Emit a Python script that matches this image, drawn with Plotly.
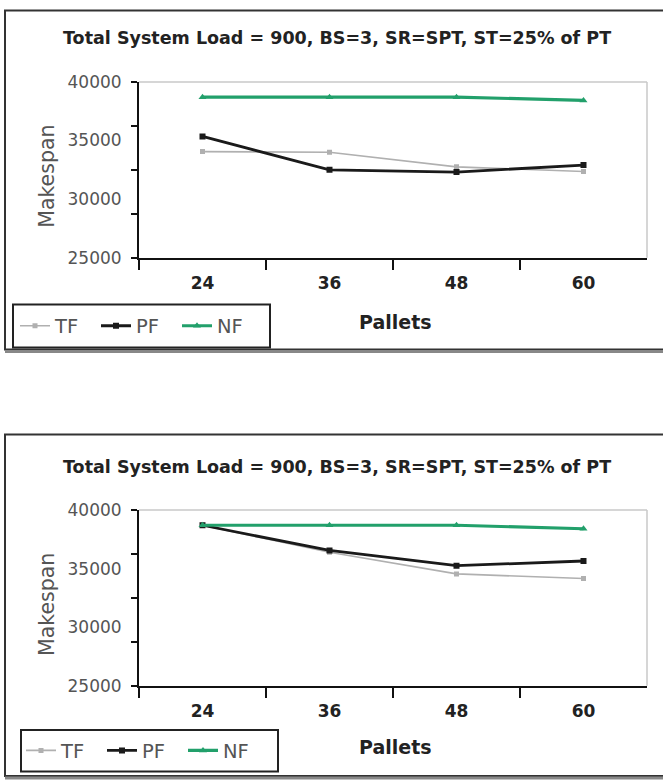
import plotly.graph_objects as go

# figure size; vertical positions below are given in target-picture pixels
# and converted (the captured page is slightly compressed vertically)
WF, HF = 663, 790
SY, OY = 0.976, 10.25

pallets = ["24", "36", "48", "60"]
series_names = ["TF", "PF", "NF"]

# Chart 1 (top)
top_tf = [34050, 34000, 32750, 32350]
top_pf = [35350, 32500, 32300, 32900]
top_nf = [38700, 38700, 38700, 38420]

# Chart 2 (bottom)
bot_tf = [38700, 36400, 34550, 34150]
bot_pf = [38700, 36550, 35250, 35650]
bot_nf = [38700, 38700, 38700, 38400]

title_text = "Total System Load = 900, BS=3, SR=SPT, ST=25% of PT"
y_ticks = [25000, 30000, 35000, 40000]
y_ticktext = ["25000", "30000", "35000", "40000"]
y_minor = [25000, 28750, 32500, 36250, 40000]
y_range = [25000, 40000]

FONT = "DejaVu Sans"
colors = {"TF": "#b0b0b0", "PF": "#1a1a1a", "NF": "#22a06b"}
widths = {"TF": 1.6, "PF": 2.8, "NF": 3.2}
symbols = {"TF": "square", "PF": "square", "NF": "triangle-up"}
msizes = {"TF": 5, "PF": 6, "NF": 7}


def px(xr):
    return xr / WF


def py(yr):
    yf = max(yr / SY - OY, 0.5)
    return (HF - yf) / HF


fig = go.Figure()

charts = [
    dict(data=[top_tf, top_pf, top_nf], xa="x", ya="y", legend="legend",
         frame=(5, 7, 740, 350), ytop=82, ybot=258, title_y=38,
         pallets_y=322, legbox=(13, 305, 270, 348), legx=20),
    dict(data=[bot_tf, bot_pf, bot_nf], xa="x2", ya="y2", legend="legend2",
         frame=(5, 435, 740, 777), ytop=510.7, ybot=686.7, title_y=468,
         pallets_y=748, legbox=(21, 731, 278, 772.5), legx=26),
]

X0, X1 = 139, 647

shapes = []
annotations = []
layout_upd = {}

for i, c in enumerate(charts):
    for name, vals in zip(series_names, c["data"]):
        fig.add_trace(go.Scatter(
            x=pallets, y=vals, name=name, mode="lines+markers",
            xaxis=c["xa"], yaxis=c["ya"], legend=c["legend"],
            line=dict(color=colors[name], width=widths[name]),
            marker=dict(color=colors[name], size=msizes[name], symbol=symbols[name]),
        ))
    sfx = "" if i == 0 else str(i + 1)
    layout_upd["xaxis" + sfx] = dict(
        domain=[px(X0), px(X1)], anchor="y" + sfx, type="category",
        range=[-0.5, 3.5], tickson="boundaries", ticks="outside", ticklen=10,
        tickwidth=2, tickcolor="#111", showline=True, linecolor="#111", linewidth=2,
        showgrid=False, zeroline=False, ticklabelstandoff=9,
        tickfont=dict(family=FONT, size=17, color="#222", weight="bold"),
    )
    layout_upd["yaxis" + sfx] = dict(
        domain=[py(c["ybot"]), py(c["ytop"])], anchor="x" + sfx,
        range=y_range, tickmode="array", tickvals=y_ticks, ticktext=y_ticktext,
        ticks="",
        showline=True, linecolor="#111", linewidth=2, showgrid=False, zeroline=False,
        ticklabelstandoff=12,
        tickfont=dict(family=FONT, size=17, color="#555"),
        minor=dict(tickmode="array", tickvals=y_minor, ticks="outside",
                   ticklen=6, tickwidth=2, tickcolor="#111", showgrid=False),
    )
    lx0, ly0, lx1, ly1 = c["legbox"]
    layout_upd[c["legend"]] = dict(
        x=px(c["legx"] - 5), y=py((ly0 + ly1) / 2), xanchor="left", yanchor="middle",
        xref="paper", yref="paper", orientation="h",
        borderwidth=0, bgcolor="rgba(0,0,0,0)",
        font=dict(family=FONT, size=19.5, color="#555"),
        entrywidth=36, tracegroupgap=0,
    )
    shapes.append(dict(type="rect", xref="paper", yref="paper",
                       x0=px(lx0), x1=px(lx1), y0=py(ly1), y1=py(ly0),
                       line=dict(color="#222", width=2), fillcolor="white",
                       layer="above"))
    fx0, fy0, fx1, fy1 = c["frame"]
    shapes.append(dict(type="rect", xref="paper", yref="paper",
                       x0=px(fx0), x1=px(fx1), y0=py(fy1), y1=py(fy0),
                       line=dict(color="#333", width=2), layer="below"))
    shapes.append(dict(type="line", xref="paper", yref="paper",
                       x0=px(fx0), x1=px(fx1), y0=py(fy1 + 2), y1=py(fy1 + 2),
                       line=dict(color="#888", width=3)))
    # light plot-area border (top and right)
    shapes.append(dict(type="line", xref="paper", yref="paper",
                       x0=px(X0), x1=px(X1), y0=py(c["ytop"]), y1=py(c["ytop"]),
                       line=dict(color="#c8c8c8", width=1.5)))
    shapes.append(dict(type="line", xref="paper", yref="paper",
                       x0=px(X1), x1=px(X1), y0=py(c["ybot"]), y1=py(c["ytop"]),
                       line=dict(color="#c8c8c8", width=1.5)))
    annotations.append(dict(text="<b>" + title_text + "</b>", xref="paper", yref="paper",
                            x=px(337), y=py(c["title_y"]), showarrow=False,
                            xanchor="center", yanchor="middle",
                            font=dict(family=FONT, size=17.5, color="#222")))
    annotations.append(dict(text="<b>Pallets</b>", xref="paper", yref="paper",
                            x=px(395), y=py(c["pallets_y"]), showarrow=False,
                            xanchor="center", yanchor="middle",
                            font=dict(family=FONT, size=19, color="#222")))
    annotations.append(dict(text="Makespan", xref="paper", yref="paper",
                            x=px(47), y=py((c["ytop"] + c["ybot"]) / 2 + 7), showarrow=False,
                            textangle=-90, xanchor="center", yanchor="middle",
                            font=dict(family=FONT, size=20.5, color="#555")))

fig.update_layout(
    width=WF, height=HF, margin=dict(l=0, r=0, t=0, b=0),
    paper_bgcolor="white", plot_bgcolor="white",
    showlegend=True, shapes=shapes, annotations=annotations,
    **layout_upd,
)

fig.write_html(
    "out.html",
    config={"displayModeBar": False},
    post_script="document.body.style.margin='0';document.body.style.overflow='hidden';",
)
